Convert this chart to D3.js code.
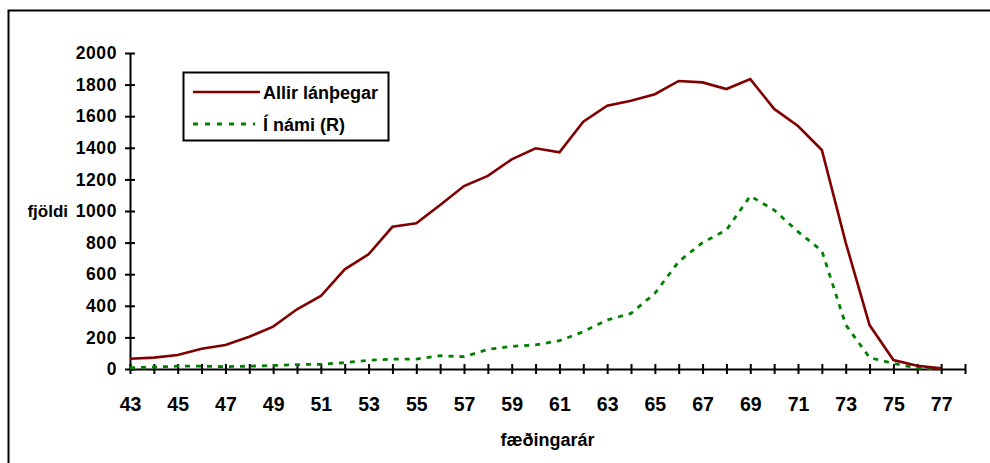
<!DOCTYPE html>
<html>
<head>
<meta charset="utf-8">
<script src="https://cdn.jsdelivr.net/npm/d3@7"></script>
<style>
  body { margin: 0; background: #fff; }
  text { font-family: "Liberation Sans", Arial, sans-serif; font-weight: bold; fill: #000; }
</style>
</head>
<body>
<div id="chart"></div>
<script>
// fæðingarár (birth years) on x axis
const years = d3.range(43, 78);
// Allir lánþegar
const allir = [65, 72, 89, 128, 152, 204, 268, 378, 462, 631, 726, 900, 922,
  1038, 1158, 1222, 1327, 1397, 1371, 1565, 1666, 1698, 1739, 1823, 1814,
  1772, 1835, 1646, 1538, 1386, 800, 278, 57, 21, 4];
// Í námi (R)
const inami = [8, 12, 18, 18, 15, 18, 22, 28, 30, 40, 55, 63, 63,
  84, 78, 124, 143, 153, 179, 236, 310, 352, 479, 680, 800,
  880, 1095, 1006, 869, 748, 280, 72, 35, 6, 0];
const yTicks = d3.range(0, 2001, 200);
const xTicks = d3.range(43, 79);

const W = 990, H = 463;
// plot area in px
const plot = { left: 130, right: 965, top: 53, bottom: 369 };

const svg = d3.select("#chart").append("svg")
  .attr("width", W).attr("height", H);

// outer chart frame, runs off the right and bottom of the picture
svg.append("rect")
  .attr("x", 8.5).attr("y", 10.5)
  .attr("width", 1100).attr("height", 600)
  .attr("fill", "none").attr("stroke", "#000").attr("stroke-width", 2);

const x = d3.scaleLinear().domain([43, 78]).range([plot.left, plot.right]);
const y = d3.scaleLinear().domain([0, 2000]).range([plot.bottom, plot.top]);

// y axis, no thousands separator
const yAxis = svg.append("g")
  .attr("transform", `translate(${plot.left},0)`)
  .call(d3.axisLeft(y).tickValues(yTicks).tickFormat(d3.format("d"))
    .tickSize(5).tickPadding(8).tickSizeOuter(0));
yAxis.selectAll(".tick line").attr("x1", -5).attr("x2", 5);
yAxis.selectAll("text").style("font-size", "17.5px").style("letter-spacing", "0.6px");

// x axis, tick on every year but label on odd ones
const xAxis = svg.append("g")
  .attr("transform", `translate(0,${plot.bottom})`)
  .call(d3.axisBottom(x).tickValues(xTicks).tickSize(5).tickPadding(23)
    .tickSizeOuter(0).tickFormat((d) => (d % 2 === 1 && d <= 77 ? d : "")));
xAxis.selectAll(".tick line").attr("y1", -5).attr("y2", 5);
xAxis.selectAll("text").style("font-size", "19.5px");

svg.selectAll(".domain, .tick line").attr("stroke", "#000").attr("stroke-width", 2);

// axis titles
svg.append("text")
  .attr("x", 68).attr("y", 217)
  .attr("text-anchor", "end")
  .style("font-size", "17px")
  .text("fjöldi");

svg.append("text")
  .attr("x", (plot.left + plot.right) / 2).attr("y", 446)
  .attr("text-anchor", "middle")
  .style("font-size", "18px")
  .text("fæðingarár");

// lines
const line = (vals) => d3.line()
  .x((d, i) => x(years[i]))
  .y((d) => y(d))(vals);

svg.append("path")
  .attr("d", line(inami))
  .attr("fill", "none")
  .attr("stroke", "#008000")
  .attr("stroke-width", 2.8)
  .attr("stroke-dasharray", "5,6");

svg.append("path")
  .attr("d", line(allir))
  .attr("fill", "none")
  .attr("stroke", "#800000")
  .attr("stroke-width", 2.6);

// legend
const legend = svg.append("g");
legend.append("rect")
  .attr("x", 183.5).attr("y", 72.5)
  .attr("width", 205).attr("height", 68)
  .attr("fill", "#fff").attr("stroke", "#000").attr("stroke-width", 2);

legend.append("line")
  .attr("x1", 193).attr("x2", 260).attr("y1", 92).attr("y2", 92)
  .attr("stroke", "#800000").attr("stroke-width", 2.6);
legend.append("text")
  .attr("x", 263).attr("y", 98.5)
  .style("font-size", "18px")
  .text("Allir lánþegar");

legend.append("line")
  .attr("x1", 193).attr("x2", 255).attr("y1", 124).attr("y2", 124)
  .attr("stroke", "#008000").attr("stroke-width", 3)
  .attr("stroke-dasharray", "5,7");
legend.append("text")
  .attr("x", 263).attr("y", 130.5)
  .style("font-size", "18px")
  .text("Í námi (R)");
</script>
</body>
</html>
